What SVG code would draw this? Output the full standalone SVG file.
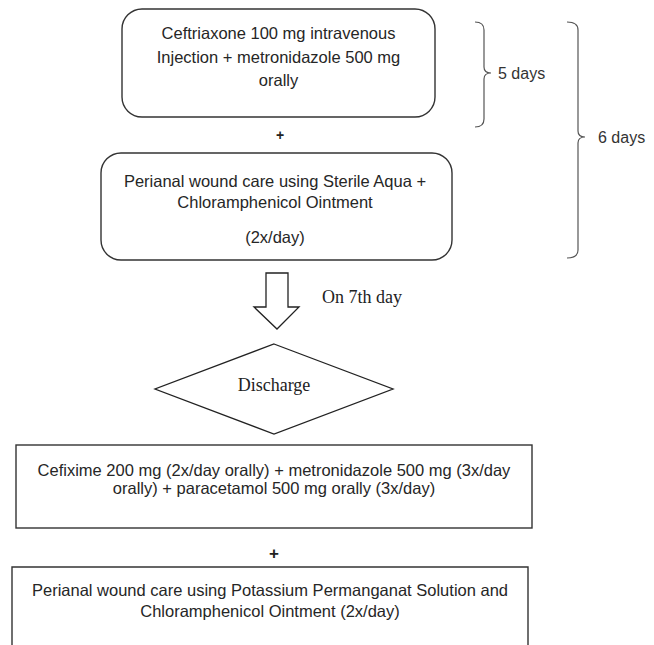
<svg xmlns="http://www.w3.org/2000/svg" width="654" height="645" viewBox="0 0 654 645">
<style>
.box{fill:#fff;stroke:#333;stroke-width:1.4}
.t{font-family:"Liberation Sans",Arial,sans-serif;font-size:16.5px;fill:#262626;text-anchor:middle}
.tl{font-family:"Liberation Sans",Arial,sans-serif;font-size:16px;fill:#333}
.serif{font-family:"Liberation Serif","Times New Roman",serif;font-size:18px;fill:#222}
.plus{font-family:"Liberation Sans",Arial,sans-serif;font-weight:bold;fill:#222;text-anchor:middle}
.br{fill:none;stroke:#555;stroke-width:1.2}
.shape{fill:#fff;stroke:#222;stroke-width:1.3}
</style>
<rect width="654" height="645" fill="#fff"/>
<g id="node-ceftriaxone">
<rect class="box" x="122" y="9" width="313" height="108" rx="20" ry="20"/>
<text class="t" x="278.5" y="39">Ceftriaxone 100 mg intravenous</text>
<text class="t" x="278.5" y="63">Injection + metronidazole 500 mg</text>
<text class="t" x="278.5" y="86">orally</text>
</g>
<text class="plus" x="280" y="140" font-size="14">+</text>
<g id="node-woundcare1">
<rect class="box" x="101" y="153" width="351" height="107" rx="20" ry="20"/>
<text class="t" x="275" y="187">Perianal wound care using Sterile Aqua +</text>
<text class="t" x="275" y="208">Chloramphenicol Ointment</text>
<text class="t" x="275" y="243">(2x/day)</text>
</g>
<g id="brace-5days">
<path class="br" d="M475,22 Q484,22 484,30 L484,67 Q484,73 491,73 Q484,73 484,79 L484,119 Q484,127 475,127"/>
<text class="tl" x="498" y="79">5 days</text>
</g>
<g id="brace-6days">
<path class="br" d="M567,22 Q578,22 578,30 L578,131 Q578,137 585,137 Q578,137 578,143 L578,250 Q578,258 567,258"/>
<text class="tl" x="598" y="143">6 days</text>
</g>
<g id="connectors">
<polygon class="shape" points="266,273 288,273 288,307 299,307 277,329 254,307 266,307"/>
<text class="serif" x="322" y="303">On 7th day</text>
</g>
<g id="node-discharge">
<polygon class="shape" points="274,344 393,389 274,434 155,389"/>
<text class="serif" x="274" y="391" text-anchor="middle">Discharge</text>
</g>
<g id="node-oral">
<rect class="box" x="16" y="445" width="516" height="83"/>
<text class="t" x="274" y="476">Cefixime 200 mg (2x/day orally) + metronidazole 500 mg (3x/day</text>
<text class="t" x="274" y="494">orally) + paracetamol 500 mg orally (3x/day)</text>
</g>
<text class="plus" x="274" y="559" font-size="17">+</text>
<g id="node-woundcare2">
<path class="box" d="M12,650 L12,567 L528,567 L528,650"/>
<text class="t" x="270" y="596">Perianal wound care using Potassium Permanganat Solution and</text>
<text class="t" x="270" y="617">Chloramphenicol Ointment (2x/day)</text>
</g>
</svg>
